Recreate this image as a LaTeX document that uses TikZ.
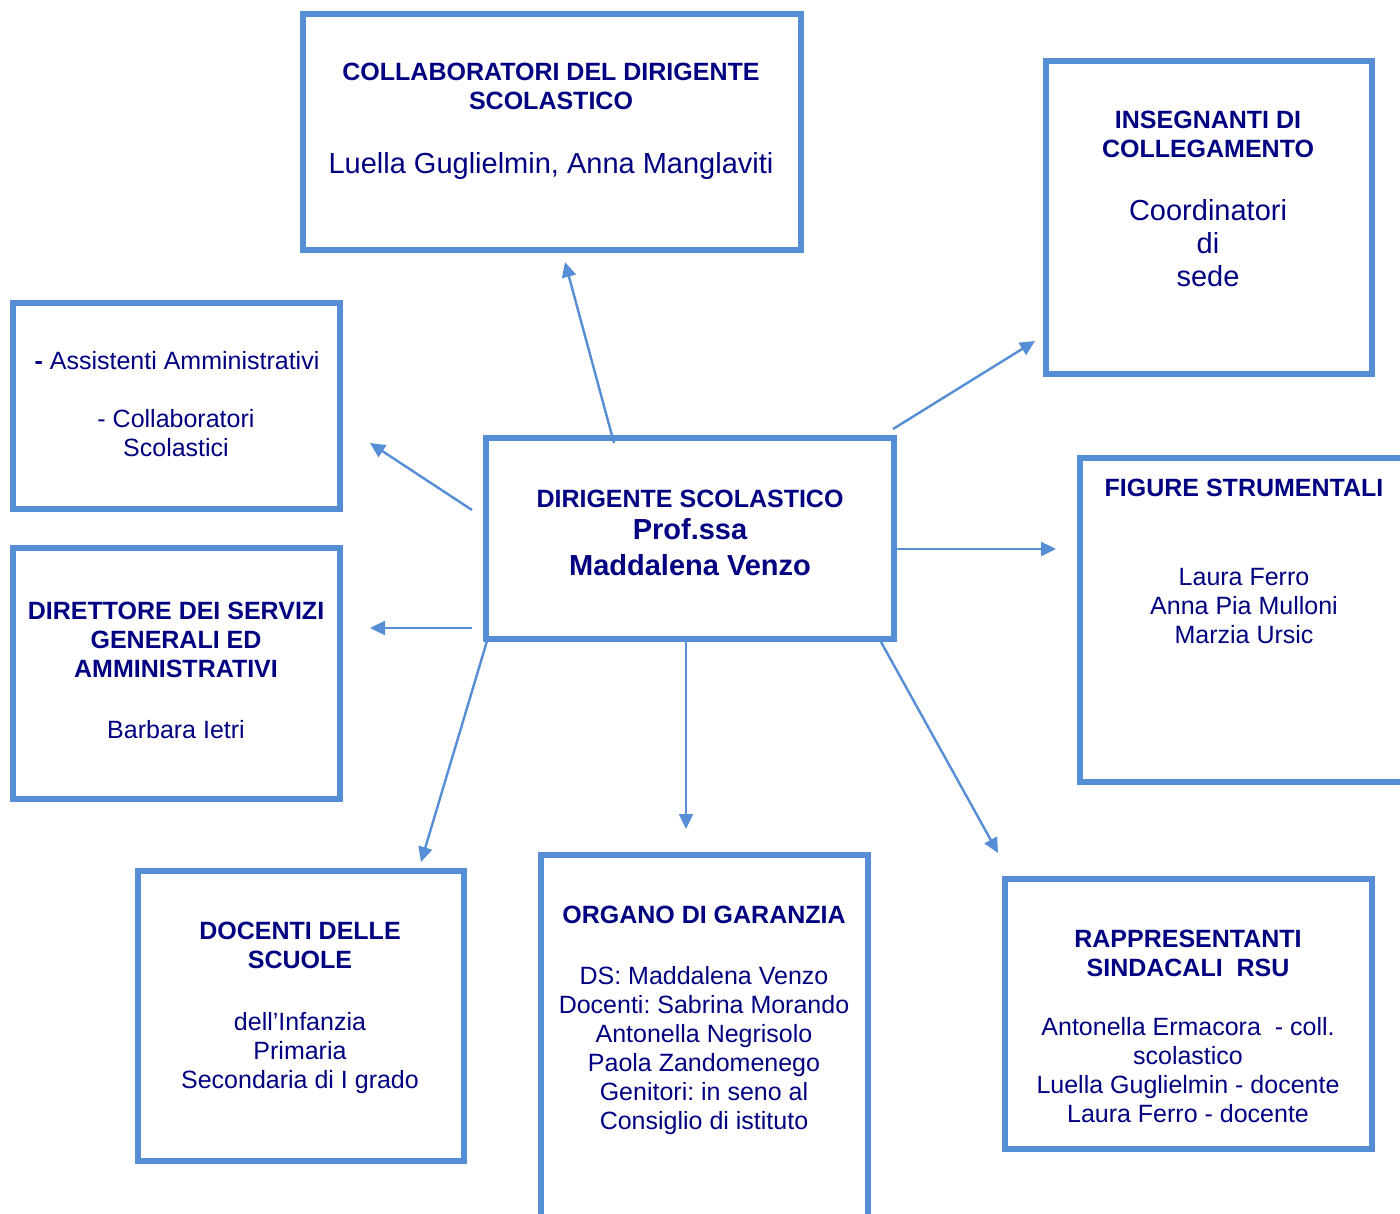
\documentclass[tikz,border=0pt]{standalone}
\usepackage{fontspec}
\setmainfont{Liberation Sans}
\usetikzlibrary{arrows.meta, fit, positioning}
\definecolor{boxblue}{RGB}{85,142,213}
\definecolor{navytext}{RGB}{0,0,128}
\frenchspacing

\begin{document}
\begin{tikzpicture}[x=0.5pt, y=-0.5pt,
    box/.style={draw=boxblue, line width=3.2pt, inner sep=0pt},
    head/.style={font=\fontsize{12.5}{14.5}\selectfont\bfseries, text=navytext, align=center, anchor=base, inner sep=0pt},
    body/.style={font=\fontsize{12.5}{14.5}\selectfont, text=navytext, align=center, anchor=base, inner sep=0pt},
    big/.style={font=\fontsize{14.5}{16.6}\selectfont, text=navytext, align=center, anchor=base, inner sep=0pt},
    bigbold/.style={big, font=\fontsize{14.5}{17.6}\selectfont\bfseries},
    link/.style={draw=boxblue, line width=1.2pt, -{Triangle[length=7.5pt, width=7pt]}}]
    \clip (0,0) rectangle (1400,1213);
    % text nodes sit on the baseline of their last line

    % dirigente
    \node[box, fit={(486,438) (894,639)}] (ds) {};
    \node[head] (ds-t) at (690,507) {DIRIGENTE SCOLASTICO};
    \node[bigbold] (ds-n) at (690,575) {Prof.ssa\\Maddalena Venzo};

    % collaboratori
    \node[box, fit={(303,14) (801,250)}] (cds) {};
    \node[head] (cds-t) at (551,110) {COLLABORATORI DEL DIRIGENTE\\SCOLASTICO};
    \node[big] (cds-n) at (551,174) {Luella Guglielmin, Anna Manglaviti};

    % insegnanti di collegamento
    \node[box, fit={(1046,61) (1372,374)}] (ic) {};
    \node[head] (ic-t) at (1208,158) {INSEGNANTI DI\\COLLEGAMENTO};
    \node[big] (ic-n) at (1208,287) {Coordinatori\\di\\sede};

    % assistenti
    \node[box, fit={(13,303) (340,509)}] (ata) {};
    \node[body] (ata-a) at (177,370) {\textbf{-} Assistenti Amministrativi};
    \node[body] (ata-c) at (176,456) {- Collaboratori\\Scolastici};

    % dsga
    \node[box, fit={(13,548) (340,799)}] (dsga) {};
    \node[head] (dsga-t) at (176,677) {DIRETTORE DEI SERVIZI\\GENERALI ED\\AMMINISTRATIVI};
    \node[body] (dsga-n) at (176,738) {Barbara Ietri};

    % figure strumentali
    \node[box, fit={(1080,458) (1430,782)}] (fs) {};
    \node[head] (fs-t) at (1244,496) {FIGURE STRUMENTALI};
    \node[body] (fs-n) at (1244,643) {Laura Ferro\\Anna Pia Mulloni\\Marzia Ursic};

    % docenti
    \node[box, fit={(138,871) (464,1161)}] (doc) {};
    \node[head] (doc-t) at (300,968) {DOCENTI DELLE\\SCUOLE};
    \node[body] (doc-n) at (300,1088) {dell’Infanzia\\Primaria\\Secondaria di I grado};

    % organo di garanzia
    \node[box, fit={(541,855) (868,1240)}] (og) {};
    \node[head] (og-t) at (704,923) {ORGANO DI GARANZIA};
    \node[body] (og-n) at (704,1129) {DS: Maddalena Venzo\\Docenti: Sabrina Morando\\Antonella Negrisolo\\Paola Zandomenego\\Genitori: in seno al\\Consiglio di istituto};

    % rsu
    \node[box, fit={(1005,879) (1372,1149)}] (rsu) {};
    \node[head] (rsu-t) at (1188,976) {RAPPRESENTANTI\\SINDACALI\ \ RSU};
    \node[body] (rsu-n) at (1188,1122) {Antonella Ermacora\ \ - coll.\\scolastico\\Luella Guglielmin - docente\\Laura Ferro - docente};

    % arrow ends
    \coordinate (ds-1) at (614,443);  \coordinate (cds-s) at (565,262);
    \coordinate (ds-2) at (893,429);  \coordinate (ic-w) at (1035,341);
    \coordinate (ds-3) at (472,510);  \coordinate (ata-e) at (370,443);
    \coordinate (ds-4) at (897,549);  \coordinate (fs-w) at (1056,549);
    \coordinate (ds-5) at (472,628);  \coordinate (dsga-e) at (370,628);
    \coordinate (ds-6) at (487,641);  \coordinate (doc-top) at (421,862);
    \coordinate (ds-7) at (686,641);  \coordinate (og-top) at (686,829);
    \coordinate (ds-8) at (881,642);  \coordinate (rsu-top) at (998,853);

    \draw[link] (ds-1) -- (cds-s);
    \draw[link] (ds-2) -- (ic-w);
    \draw[link] (ds-3) -- (ata-e);
    \draw[link] (ds-4) -- (fs-w);
    \draw[link] (ds-5) -- (dsga-e);
    \draw[link] (ds-6) -- (doc-top);
    \draw[link] (ds-7) -- (og-top);
    \draw[link] (ds-8) -- (rsu-top);
\end{tikzpicture}
\end{document}
